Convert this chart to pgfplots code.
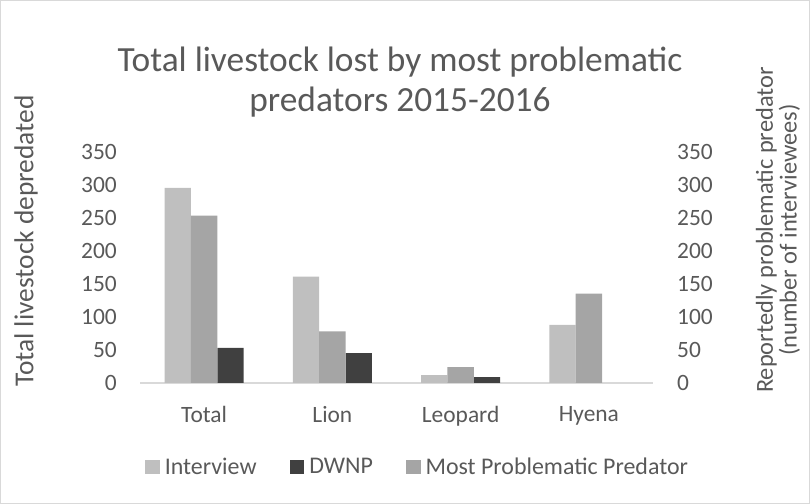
\documentclass[border=0pt]{standalone}
\usepackage{pgfplots}
\pgfplotsset{compat=1.18}
\usepackage{fontspec}
\setmainfont{Carlito}
\definecolor{light}{HTML}{BFBFBF}
\definecolor{mid}{HTML}{A5A5A5}
\definecolor{dark}{HTML}{404040}
\definecolor{txt}{HTML}{595959}
\definecolor{gridc}{HTML}{D9D9D9}

\begin{document}
\begin{tikzpicture}
\path[use as bounding box] (0,0) rectangle (810bp,504bp);
\draw[gridc, line width=1bp] (0.5bp,0.5bp) rectangle (809.5bp,503.5bp);
\begin{axis}[
  at={(140bp,121bp)}, anchor=south west,
  scale only axis, width=513bp, height=231.5bp,
  xmin=-0.5, xmax=3.5, ymin=0, ymax=350,
  ybar=0pt, bar width=26.3bp,
  axis x line*=bottom, axis y line*=left,
  y axis line style={draw=none},
  x axis line style={gridc, line width=1.3bp, -},
  major tick length=0pt,
  xtick={0,1,2,3}, xticklabels={Total,Lion,Leopard,Hyena},
  ytick={0,50,...,350},
  /pgf/number format/assume math mode=true,
  tick label style={font=\fontsize{23.5}{28}\selectfont, text=txt, inner sep=0pt},
  yticklabel style={anchor=east, xshift=-23bp},
  xticklabel style={anchor=north, yshift=-23bp},
  legend style={at={(axis description cs:0.542,-0.363)}, anchor=center,
    legend columns=3, draw=none, fill=none,
    font=\fontsize{24}{28}\selectfont, text=txt,
    /tikz/every even column/.append style={column sep=30bp},
    nodes={inner sep=3bp}},
  legend image code/.code={\fill[#1] (0bp,-7.3bp) rectangle (14.7bp,7.3bp);},
]
\addplot[fill=light, draw=none, bar shift=-26.3bp] coordinates {(0,295) (1,161) (2,12) (3,88)};
\addlegendentry{\hspace{2bp}Interview}
\addplot[fill=dark, draw=none, bar shift=26.3bp] coordinates {(0,53) (1,45) (2,9)};
\addlegendentry{\hspace{2bp}DWNP}
\addplot[fill=mid, draw=none, bar shift=0bp] coordinates {(0,253) (1,78) (2,24) (3,135)};
\addlegendentry{\hspace{2bp}Most Problematic Predator}
\end{axis}
\begin{axis}[
  at={(140bp,121bp)}, anchor=south west,
  scale only axis, width=513bp, height=231.5bp,
  xmin=-0.5, xmax=3.5, ymin=0, ymax=350,
  hide x axis,
  axis y line*=right,
  y axis line style={draw=none},
  major tick length=0pt,
  ytick={0,50,...,350},
  /pgf/number format/assume math mode=true,
  tick label style={font=\fontsize{23.5}{28}\selectfont, text=txt, inner sep=0pt},
  yticklabel style={anchor=west, xshift=24bp},
]
\addplot[draw=none] coordinates {(0,0)};
\end{axis}
\node[rotate=90, text=txt, font=\fontsize{27.5}{31}\selectfont] at (26bp,263bp) {Total livestock depredated};
\node[rotate=90, text=txt, align=center, font=\fontsize{24.5}{24}\selectfont] at (778bp,274bp) {Reportedly problematic predator\\(number of interviewees)};
\node[text=txt, align=center, font=\fontsize{35.5}{40}\selectfont] at (400bp,422bp) {Total livestock lost by most problematic\\predators 2015-2016};
\end{tikzpicture}
\end{document}
